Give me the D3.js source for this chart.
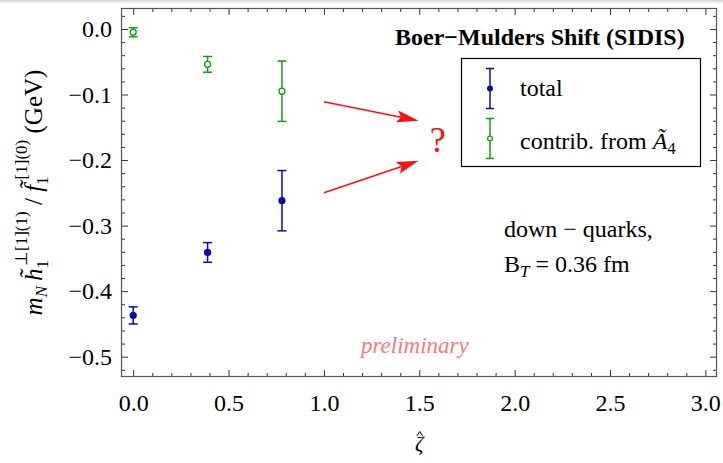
<!DOCTYPE html>
<html>
<head>
<meta charset="utf-8">
<script src="https://cdn.jsdelivr.net/npm/d3@7"></script>
<style>
  body { margin: 0; background: #fff; }
  svg text { font-family: "Liberation Serif", "Times New Roman", serif; }
</style>
</head>
<body>
<svg id="chart" width="723" height="463"></svg>
<script>
// data
const zeta = [0.0, 0.39, 0.78];
const totalVals = [-0.437, -0.341, -0.262];
const totalErr = [0.013, 0.015, 0.046];
const a4Vals = [-0.005, -0.054, -0.095];
const a4Err = [0.007, 0.012, 0.046];

const xTicks = [0.0, 0.5, 1.0, 1.5, 2.0, 2.5, 3.0];
const yTicks = [0.0, -0.1, -0.2, -0.3, -0.4, -0.5];

const blue = "#0a0ab4";
const green = "#159c15";
const red = "#ff1010";

var margin = { top: 8, left: 121, right: 6, bottom: 86 },
    width = 723 - margin.left - margin.right,
    height = 463 - margin.top - margin.bottom;

var svg = d3.select("#chart");

// faint grey strip at the very top of the screenshot
var grad = svg.append("defs").append("linearGradient")
    .attr("id", "topfade").attr("x1", 0).attr("x2", 0).attr("y1", 0).attr("y2", 1);
grad.append("stop").attr("offset", "0%").attr("stop-color", "#d4d4d4");
grad.append("stop").attr("offset", "100%").attr("stop-color", "#ffffff");
svg.append("rect").attr("x", 0).attr("y", 0).attr("width", 723).attr("height", 4)
    .attr("fill", "url(#topfade)");

var x = d3.scaleLinear().domain([-0.064, 3.061]).range([margin.left, margin.left + width]);
var y = d3.scaleLinear().domain([-0.531, 0.032]).range([margin.top + height, margin.top]);

var xMinor = d3.range(0, 31).map(d => d / 10).filter(d => xTicks.indexOf(d) < 0);
var yMinor = d3.range(-26, 2).map(d => d / 50).filter(d => Math.abs(Math.round(d * 10) - d * 10) > 1e-6);

function tickAxis(axisFn, scale, vals, size, pad, fmt) {
  return axisFn(scale).tickValues(vals).tickSizeInner(-size).tickSizeOuter(0)
    .tickPadding(pad).tickFormat(fmt);
}

var bottom = margin.top + height, right = margin.left + width;

// major + minor ticks on every side, pointing in
[[d3.axisBottom, x, "translate(0," + bottom + ")", xTicks, xMinor, 17, d3.format(".1f")],
 [d3.axisTop, x, "translate(0," + margin.top + ")", xTicks, xMinor, 0, ""],
 [d3.axisLeft, y, "translate(" + margin.left + ",0)", yTicks, yMinor, 9, d => d3.format(".1f")(d).replace("-", "\u2212")],
 [d3.axisRight, y, "translate(" + right + ",0)", yTicks, yMinor, 0, ""]
].forEach(function(a) {
  var major = svg.append("g").attr("transform", a[2])
      .call(tickAxis(a[0], a[1], a[3], 7, a[5], a[6] === "" ? () => "" : a[6]));
  var minor = svg.append("g").attr("transform", a[2])
      .call(tickAxis(a[0], a[1], a[4], 4, 0, () => ""));
  [major, minor].forEach(function(g) {
    g.select(".domain").remove();
    g.selectAll("line").attr("stroke", "#333").attr("stroke-width", 1);
    g.selectAll("text").attr("font-size", 24).attr("fill", "#000")
      .style("font-family", "Liberation Serif");
  });
});

svg.append("rect")
  .attr("x", margin.left + 0.5).attr("y", margin.top + 0.5)
  .attr("width", width - 1).attr("height", height - 1)
  .attr("fill", "none").attr("stroke", "#555").attr("stroke-width", 1.2);

// error bars + markers
function errorBars(vals, errs, color, filled) {
  var g = svg.append("g");
  var pts = zeta.map((z, i) => ({ z: z, v: vals[i], e: errs[i] }));
  var sel = g.selectAll("g.pt").data(pts).enter().append("g");
  sel.append("line")
    .attr("x1", d => x(d.z)).attr("x2", d => x(d.z))
    .attr("y1", d => y(d.v + d.e)).attr("y2", d => y(d.v - d.e))
    .attr("stroke", color).attr("stroke-width", 1.5);
  [1, -1].forEach(function(s) {
    sel.append("line")
      .attr("x1", d => x(d.z) - 4.5).attr("x2", d => x(d.z) + 4.5)
      .attr("y1", d => y(d.v + s * d.e)).attr("y2", d => y(d.v + s * d.e))
      .attr("stroke", color).attr("stroke-width", 1.5);
  });
  sel.append("circle")
    .attr("cx", d => x(d.z)).attr("cy", d => y(d.v))
    .attr("r", filled ? 3.6 : 3)
    .attr("fill", filled ? color : "#fff")
    .attr("stroke", color).attr("stroke-width", filled ? 0 : 1.3);
}
errorBars(a4Vals, a4Err, green, false);
errorBars(totalVals, totalErr, blue, true);

// title
svg.append("text").attr("x", 395).attr("y", 45)
  .attr("font-size", 24).attr("font-weight", "bold")
  .text("Boer\u2212Mulders Shift (SIDIS)");

// legend
svg.append("rect").attr("x", 461.5).attr("y", 58.5).attr("width", 239).attr("height", 108)
  .attr("fill", "#fff").attr("stroke", "#000").attr("stroke-width", 1.2);

function legendEntry(cy, color, filled) {
  var g = svg.append("g");
  g.append("line").attr("x1", 490).attr("x2", 490).attr("y1", cy - 20).attr("y2", cy + 20)
    .attr("stroke", color).attr("stroke-width", 1.5);
  [-20, 20].forEach(function(o) {
    g.append("line").attr("x1", 486).attr("x2", 494).attr("y1", cy + o).attr("y2", cy + o)
      .attr("stroke", color).attr("stroke-width", 1.5);
  });
  g.append("circle").attr("cx", 490).attr("cy", cy).attr("r", filled ? 3 : 2.4)
    .attr("fill", filled ? color : "#fff").attr("stroke", color).attr("stroke-width", filled ? 0 : 1.2);
  return g;
}
legendEntry(88.5, blue, true);
legendEntry(138.5, green, false);
svg.append("text").attr("x", 520).attr("y", 96).attr("font-size", 24).text("total");
var lt = svg.append("text").attr("x", 520).attr("y", 149).attr("font-size", 24);
lt.append("tspan").text("contrib. from ");
lt.append("tspan").attr("font-style", "italic").text("A\u0303");
lt.append("tspan").attr("font-size", 17).attr("dy", 5).text("4");

// red arrows and question mark
const arrows = [
  { from: [1.0, -0.111], to: [1.497, -0.140] },
  { from: [1.0, -0.250], to: [1.497, -0.201] }
];
arrows.forEach(function(a) {
  var x0 = x(a.from[0]), y0 = y(a.from[1]), x1 = x(a.to[0]), y1 = y(a.to[1]);
  var ang = Math.atan2(y1 - y0, x1 - x0), L = 22, W = 6;
  var bx = x1 - L * Math.cos(ang), by = y1 - L * Math.sin(ang);
  svg.append("line").attr("x1", x0).attr("y1", y0).attr("x2", bx + 4 * Math.cos(ang)).attr("y2", by + 4 * Math.sin(ang))
    .attr("stroke", red).attr("stroke-width", 1.5);
  svg.append("path")
    .attr("d", "M" + x1 + "," + y1 +
      "L" + (bx - W * Math.sin(ang)) + "," + (by + W * Math.cos(ang)) +
      "L" + (bx + 4 * Math.cos(ang)) + "," + (by + 4 * Math.sin(ang)) +
      "L" + (bx + W * Math.sin(ang)) + "," + (by - W * Math.cos(ang)) + "Z")
    .attr("fill", red);
});
svg.append("text").attr("x", x(1.597)).attr("y", 152).attr("text-anchor", "middle")
  .attr("font-size", 36).attr("fill", red).text("?");

// annotation
svg.append("text").attr("x", 504).attr("y", 237).attr("font-size", 24).text("down \u2212 quarks,");
var bt = svg.append("text").attr("x", 504).attr("y", 272).attr("font-size", 24);
bt.append("tspan").text("B");
bt.append("tspan").attr("font-size", 17).attr("font-style", "italic").attr("dy", 5).text("T");
bt.append("tspan").attr("dy", -5).text(" = 0.36 fm");

svg.append("text").attr("x", 361).attr("y", 353).attr("font-size", 23)
  .attr("font-style", "italic").attr("fill", "#f77b7b").text("preliminary");

// axis labels: zeta with a hat drawn as a small chevron
var zx = x(1.5);
svg.append("text").attr("x", zx).attr("y", 451).attr("text-anchor", "middle")
  .attr("font-size", 21).attr("font-style", "italic").text("\u03B6");
svg.append("path")
  .attr("d", "M" + (zx - 2.5) + ",436 L" + (zx + 0.5) + ",431.5 L" + (zx + 3.5) + ",436")
  .attr("fill", "none").attr("stroke", "#000").attr("stroke-width", 1);

var yl = svg.append("text")
  .attr("transform", "translate(42," + (margin.top + height / 2) + ") rotate(-90)")
  .attr("text-anchor", "middle").attr("font-size", 25);
yl.append("tspan").attr("font-style", "italic").text("m");
yl.append("tspan").attr("font-style", "italic").attr("font-size", 17).attr("dy", 5).text("N");
yl.append("tspan").attr("dy", -5).text("\u2009");
yl.append("tspan").attr("font-style", "italic").text("h\u0303");
yl.append("tspan").attr("font-size", 17).attr("dy", 6).text("1");
yl.append("tspan").attr("font-size", 17).attr("dx", -6).attr("dy", -21).text("\u22A5[1](1)");
yl.append("tspan").attr("dy", 15).text(" / ");
yl.append("tspan").attr("font-style", "italic").text("f\u0303");
yl.append("tspan").attr("font-size", 17).attr("dy", 6).text("1");
yl.append("tspan").attr("font-size", 17).attr("dx", -3).attr("dy", -21).text("[1](0)");
yl.append("tspan").attr("dy", 15).text(" (GeV)");
</script>
</body>
</html>
